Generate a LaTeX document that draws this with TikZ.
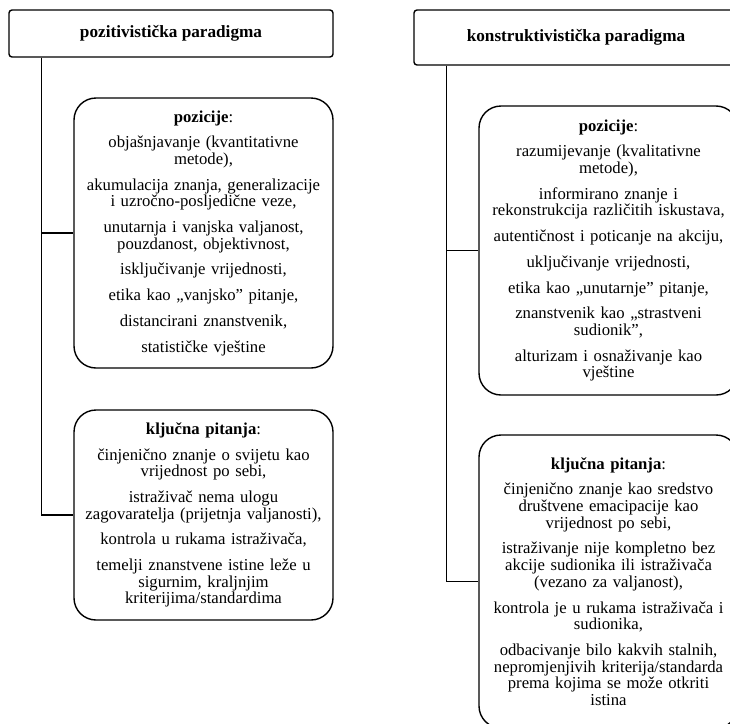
\documentclass[tikz,border=0pt]{standalone}
\usepackage{fontspec}
\setmainfont{Liberation Serif}
\usetikzlibrary{positioning}

\begin{document}
\begin{tikzpicture}[x=1pt, y=-1pt, line width=1.4pt,
    font=\fontsize{16.7}{16.7}\selectfont,
    hdr/.style={draw, rounded corners=3pt, minimum width=324pt,
      inner sep=0pt, font=\fontsize{17.2}{17.5}\selectfont\bfseries},
    txtbox/.style={draw, rounded corners=22pt, minimum width=259pt,
      inner sep=0pt, text width=256pt, align=center}]
    \useasboundingbox (0,0) rectangle (730,723);
    \clip (0,0) rectangle (730,723);
    % left column
    \node (hpos) [hdr, minimum height=47pt] at (171,33.5) {pozitivistička paradigma};
    \node (ppos) [txtbox, minimum height=270pt] at (203.5,233) {%
      \textbf{pozicije}:\\[9pt]
      objašnjavanje (kvantitativne\\ metode),\\[9pt]
      akumulacija znanja, generalizacije\\ i uzročno-posljedične veze,\\[9pt]
      unutarnja i vanjska valjanost,\\ pouzdanost, objektivnost,\\[9pt]
      isključivanje vrijednosti,\\[9pt]
      etika kao „vanjsko” pitanje,\\[9pt]
      distancirani znanstvenik,\\[9pt]
      statističke vještine};
    \node (kpos) [txtbox, minimum height=210pt] at (203.5,515) {%
      \textbf{ključna pitanja}:\\[9pt]
      činjenično znanje o svijetu kao\\ vrijednost po sebi,\\[9pt]
      istraživač nema ulogu\\ zagovaratelja (prijetnja valjanosti),\\[9pt]
      kontrola u rukama istraživača,\\[9pt]
      temelji znanstvene istine leže u\\ sigurnim, kraljnjim\\ kriterijima/standardima};
    % right column
    \node (hkon) [hdr, minimum height=55pt] at (576,37.5) {konstruktivistička paradigma};
    \node (pkon) [txtbox, minimum height=289pt] at (608.5,250.5) {%
      \textbf{pozicije}:\\[9pt]
      razumijevanje (kvalitativne\\ metode),\\[9pt]
      informirano znanje i\\ rekonstrukcija različitih iskustava,\\[9pt]
      autentičnost i poticanje na akciju,\\[9pt]
      uključivanje vrijednosti,\\[9pt]
      etika kao „unutarnje” pitanje,\\[9pt]
      znanstvenik kao „strastveni\\ sudionik”,\\[9pt]
      alturizam i osnaživanje kao\\ vještine};
    \node (kkon) [txtbox, minimum height=293pt] at (608.5,581.5) {%
      \textbf{ključna pitanja}:\\[9pt]
      činjenično znanje kao sredstvo\\ društvene emacipacije kao\\ vrijednost po sebi,\\[9pt]
      istraživanje nije kompletno bez\\ akcije sudionika ili istraživača\\ (vezano za valjanost),\\[9pt]
      kontrola je u rukama istraživača i\\ sudionika,\\[9pt]
      odbacivanje bilo kakvih stalnih,\\ nepromjenjivih kriterija/standarda\\ prema kojima se može otkriti\\ istina};
    % connectors
    \draw ([xshift=33pt]hpos.south west) |- (ppos.west);
    \draw ([xshift=33pt]hpos.south west) |- (kpos.west);
    \draw ([xshift=33pt]hkon.south west) |- (pkon.west);
    \draw ([xshift=33pt]hkon.south west) |- (kkon.west);
\end{tikzpicture}
\end{document}
